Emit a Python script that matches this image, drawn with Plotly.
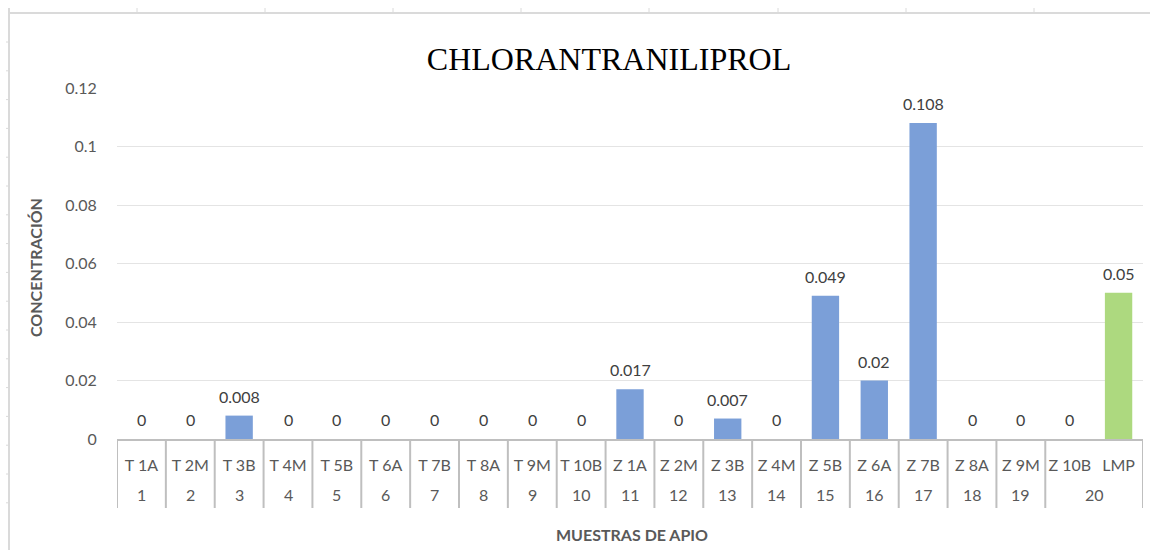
import plotly.graph_objects as go

# --- data ---
sample_names = ["T 1A", "T 2M", "T 3B", "T 4M", "T 5B", "T 6A", "T 7B", "T 8A", "T 9M", "T 10B",
                "Z 1A", "Z 2M", "Z 3B", "Z 4M", "Z 5B", "Z 6A", "Z 7B", "Z 8A", "Z 9M", "Z 10B", "LMP"]
sample_numbers = ["1", "2", "3", "4", "5", "6", "7", "8", "9", "10",
                  "11", "12", "13", "14", "15", "16", "17", "18", "19", "20", "20"]
concentration = [0, 0, 0.008, 0, 0, 0, 0, 0, 0, 0,
                 0.017, 0, 0.007, 0, 0.049, 0.02, 0.108, 0, 0, 0, 0.05]
y_ticks = [0, 0.02, 0.04, 0.06, 0.08, 0.1, 0.12]
y_ticklabels = ["0", "0.02", "0.04", "0.06", "0.08", "0.1", "0.12"]

BLUE = "#7B9FD8"
GREEN = "#ADD97F"
colors = [GREEN if n == "LMP" else BLUE for n in sample_names]

FONT = "Lato, 'Open Sans', sans-serif"
GREY = "#595959"
AXIS_COL = "#BFBFBF"
FS = 16

fig = go.Figure()
fig.add_trace(go.Bar(
    x=sample_names,
    y=concentration,
    marker=dict(color=colors, line=dict(width=0)),
    width=0.56,
    hoverinfo="x+y",
))

# plot-area geometry (pixels) for decorative frame conversion
L, R, T, B = 117, 1143, 88, 439
W, H = R - L, B - T


def px(x):
    return (x - L) / W


def py(y):
    return (B - y) / H


shapes = []
frame_col = "#DADADA"
# top border line with ticks (page decoration)
shapes.append(dict(type="line", xref="paper", yref="paper", x0=px(9), x1=px(1150), y0=py(13), y1=py(13),
                   line=dict(color=frame_col, width=2)))
for tx in [137, 265, 393, 521, 649, 778, 906, 1034]:
    shapes.append(dict(type="line", xref="paper", yref="paper", x0=px(tx), x1=px(tx), y0=py(13), y1=py(8),
                       line=dict(color=frame_col, width=1)))
# left border line with ticks
shapes.append(dict(type="line", xref="paper", yref="paper", x0=px(9), x1=px(9), y0=py(8), y1=py(550),
                   line=dict(color=frame_col, width=2)))
for k in range(17):
    ty = 42 + k * 28.8
    shapes.append(dict(type="line", xref="paper", yref="paper", x0=px(6), x1=px(9), y0=py(ty), y1=py(ty),
                       line=dict(color=frame_col, width=1)))

# group structure of the two-level category axis
groups = []
for i, num in enumerate(sample_numbers):
    if groups and groups[-1][0] == num:
        groups[-1][2] = i
    else:
        groups.append([num, i, i])

annotations = []
# dividers between outer groups (and at both ends)
div_bottom = py(508)
for num, i0, i1 in groups:
    shapes.append(dict(type="line", xref="x", yref="paper", x0=i0 - 0.5, x1=i0 - 0.5, y0=0, y1=div_bottom,
                       line=dict(color=AXIS_COL, width=2)))
    annotations.append(dict(text=num, xref="x", yref="paper", x=(i0 + i1) / 2, y=py(494),
                            showarrow=False, xanchor="center", yanchor="middle",
                            font=dict(family=FONT, size=FS, color=GREY)))
shapes.append(dict(type="line", xref="x", yref="paper", x0=len(sample_names) - 0.5, x1=len(sample_names) - 0.5,
                   y0=0, y1=div_bottom, line=dict(color=AXIS_COL, width=2)))

# value labels above bars
for name, v in zip(sample_names, concentration):
    annotations.append(dict(text=f"{v:g}", xref="x", yref="y", x=name, y=v, yshift=8,
                            showarrow=False, xanchor="center", yanchor="bottom",
                            font=dict(family=FONT, size=FS, color="#404040")))

annotations += [
    dict(text="<b>CONCENTRACIÓN</b>", xref="paper", yref="paper", x=px(35), y=py(268), textangle=-90,
         showarrow=False, xanchor="center", yanchor="middle",
         font=dict(family=FONT, size=FS, color=GREY)),
    dict(text="<b>MUESTRAS DE APIO</b>", xref="paper", yref="paper", x=px(632), y=py(534),
         showarrow=False, xanchor="center", yanchor="middle",
         font=dict(family=FONT, size=FS, color=GREY)),
]

fig.update_layout(
    width=1150, height=550,
    margin=dict(l=L, r=1150 - R, t=T, b=550 - B, autoexpand=False),
    paper_bgcolor="white", plot_bgcolor="white",
    showlegend=False,
    title=dict(text="CHLORANTRANILIPROL", x=609 / 1150, xanchor="center", xref="container",
               y=1 - 59 / 550, yanchor="middle", yref="container",
               font=dict(family="'Liberation Serif', 'Times New Roman', serif", size=32, color="#000000")),
    font=dict(family=FONT, color=GREY),
    shapes=shapes,
    annotations=annotations,
)

fig.update_yaxes(range=[0, 0.12], tickvals=y_ticks, ticktext=y_ticklabels,
                 showgrid=True, gridcolor="#E4E4E4", gridwidth=1,
                 zeroline=False, showline=False,
                 ticks="outside", ticklen=16, tickcolor="rgba(0,0,0,0)",
                 tickfont=dict(family=FONT, size=FS, color=GREY))
fig.update_xaxes(type="category", range=[-0.5, len(sample_names) - 0.5],
                 showline=True, linecolor=AXIS_COL, linewidth=2,
                 showgrid=False, ticks="outside", ticklen=11, tickcolor="rgba(0,0,0,0)",
                 tickfont=dict(family=FONT, size=FS, color=GREY))

fig.write_html("out.html", config={"displayModeBar": False},
               post_script="document.body.style.margin='0';")
